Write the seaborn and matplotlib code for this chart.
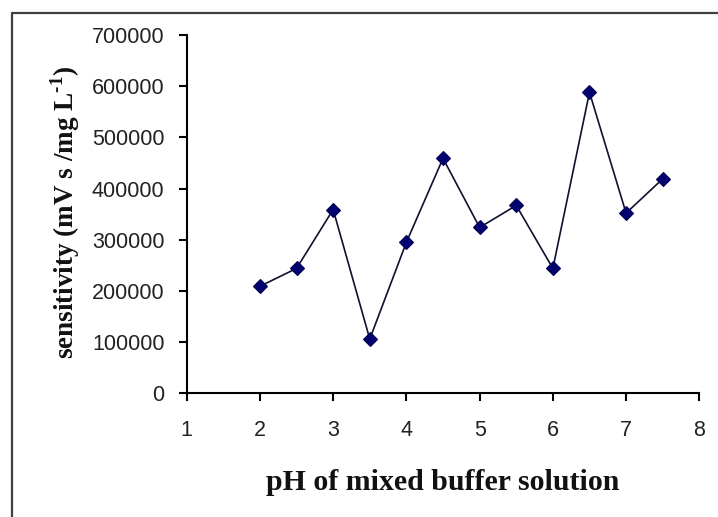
import matplotlib
matplotlib.use("Agg")
import matplotlib.pyplot as plt
from matplotlib.lines import Line2D
import seaborn as sns
import pandas as pd

# Data
ph = [2.0, 2.5, 3.0, 3.5, 4.0, 4.5, 5.0, 5.5, 6.0, 6.5, 7.0, 7.5]
sensitivity = [209000, 244000, 359000, 106000, 295000, 459000,
               324000, 367000, 244000, 588000, 352000, 419000]
x_ticks = [1, 2, 3, 4, 5, 6, 7, 8]
y_ticks = [0, 100000, 200000, 300000, 400000, 500000, 600000, 700000]
x_label = "pH of mixed buffer solution"
y_label = "sensitivity (mV s /mg L$^{\\mathbf{\u20101}}$)"

df = pd.DataFrame({"pH": ph, "sensitivity": sensitivity})

sns.set_theme(style="white")
plt.rcParams["font.family"] = ["Liberation Sans", "DejaVu Sans"]
plt.rcParams["mathtext.fontset"] = "custom"
plt.rcParams["mathtext.rm"] = "Liberation Serif:bold"
plt.rcParams["mathtext.bf"] = "Liberation Serif:bold"

fig = plt.figure(figsize=(7.18, 5.17), dpi=100)
ax = fig.add_axes([0.260, 0.2393, 0.714, 0.693])

sns.lineplot(data=df, x="pH", y="sensitivity", ax=ax, color="#101030",
             linewidth=1.2, marker="D", markersize=7.5,
             markerfacecolor="#000070", markeredgecolor="#000050",
             markeredgewidth=0.8, sort=False)

ax.set_xlim(1, 8)
ax.set_ylim(0, 700000)
ax.set_xticks(x_ticks)
ax.set_yticks(y_ticks)
ax.set_xticklabels([str(v) for v in x_ticks])
ax.set_yticklabels([str(v) for v in y_ticks])

for s in ["top", "right"]:
    ax.spines[s].set_visible(False)
for s in ["left", "bottom"]:
    ax.spines[s].set_color("black")
    ax.spines[s].set_linewidth(1.5)

ax.tick_params(axis="both", which="major", bottom=True, left=True,
               direction="out", length=6, width=1.5, color="black",
               labelsize=15.5, labelcolor="#222222")
ax.tick_params(axis="y", pad=10)
ax.tick_params(axis="x", pad=13)

ax.set_xlabel(x_label, fontsize=21.5, fontweight="bold",
              family="Liberation Serif", color="#111111")
ax.set_ylabel(y_label, fontsize=19.5, fontweight="bold",
              family="Liberation Serif", color="#111111")
ax.xaxis.set_label_coords(0.5, -0.21)
ax.yaxis.set_label_coords(-0.205, 0.505)

# Outer frame (only left and top edges visible in the reference)
fig.add_artist(Line2D([11.7 / 718, 11.7 / 718], [0, 1 - 13 / 517],
                      transform=fig.transFigure, color="#404040", linewidth=1.6))
fig.add_artist(Line2D([11.7 / 718, 1], [1 - 13 / 517, 1 - 13 / 517],
                      transform=fig.transFigure, color="#404040", linewidth=1.6))

fig.savefig("out.png", dpi=100, facecolor="white")
